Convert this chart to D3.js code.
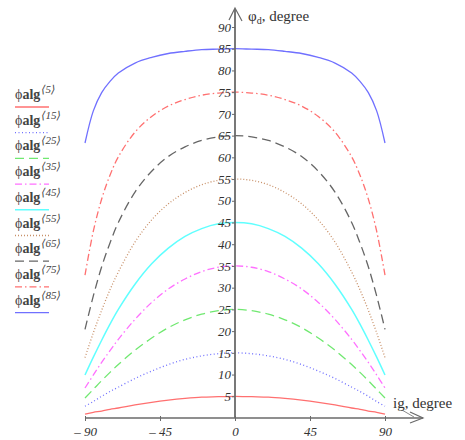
<!DOCTYPE html>
<html>
<head>
<meta charset="utf-8">
<script src="https://cdn.jsdelivr.net/npm/d3@7"></script>
<style>
  body { margin: 0; background: #fff; }
  svg { display: block; }
  svg text { font-family: "Liberation Serif", "Times New Roman", "DejaVu Serif", serif; }
</style>
</head>
<body>
<script>
// incidence angle, degree
var ig = [-90, -85, -80, -75, -70, -60, -50, -40, -30, -20, -10, 0, 10, 20, 30, 40, 50, 60, 70, 75, 80, 85, 90];

// phi_d
var alg5  = [0.9, 1.3, 1.6, 2.0, 2.3, 3.0, 3.6, 4.1, 4.5, 4.8, 4.9, 5.0, 4.9, 4.8, 4.5, 4.1, 3.6, 3.0, 2.3, 2.0, 1.6, 1.3, 0.9];
var alg15 = [2.7, 3.8, 5.0, 6.1, 7.1, 9.1, 10.8, 12.3, 13.5, 14.3, 14.8, 15.0, 14.8, 14.3, 13.5, 12.3, 10.8, 9.1, 7.1, 6.1, 5.0, 3.8, 2.7];
var alg25 = [4.6, 6.6, 8.6, 10.5, 12.3, 15.6, 18.4, 20.8, 22.6, 23.9, 24.7, 25.0, 24.7, 23.9, 22.6, 20.8, 18.4, 15.6, 12.3, 10.5, 8.6, 6.6, 4.6];
var alg35 = [6.9, 9.9, 12.8, 15.5, 18.1, 22.7, 26.6, 29.7, 32.0, 33.7, 34.7, 35.0, 34.7, 33.7, 32.0, 29.7, 26.6, 22.7, 18.1, 15.5, 12.8, 9.9, 6.9];
var alg45 = [9.9, 14.0, 17.9, 21.6, 25.0, 30.8, 35.5, 39.1, 41.8, 43.6, 44.7, 45.0, 44.7, 43.6, 41.8, 39.1, 35.5, 30.8, 25.0, 21.6, 17.9, 14.0, 9.9];
var alg55 = [13.9, 19.6, 24.8, 29.5, 33.6, 40.5, 45.6, 49.3, 51.9, 53.7, 54.7, 55.0, 54.7, 53.7, 51.9, 49.3, 45.6, 40.5, 33.6, 29.5, 24.8, 19.6, 13.9];
var alg65 = [20.4, 28.1, 34.8, 40.3, 45.0, 52.0, 56.8, 60.2, 62.4, 63.9, 64.7, 65.0, 64.7, 63.9, 62.4, 60.2, 56.8, 52.0, 45.0, 40.3, 34.8, 28.1, 20.4];
var alg75 = [32.9, 43.0, 50.4, 55.9, 60.1, 65.8, 69.4, 71.8, 73.3, 74.3, 74.8, 75.0, 74.8, 74.3, 73.3, 71.8, 69.4, 65.8, 60.1, 55.9, 50.4, 43.0, 32.9];
var alg85 = [63.3, 70.7, 74.9, 77.5, 79.4, 81.7, 83.0, 83.9, 84.4, 84.8, 84.9, 85.0, 84.9, 84.8, 84.4, 83.9, 83.0, 81.7, 79.4, 77.5, 74.9, 70.7, 63.3];

var seriesNames = ["5", "15", "25", "35", "45", "55", "65", "75", "85"];
var seriesData = [alg5, alg15, alg25, alg35, alg45, alg55, alg65, alg75, alg85];

var xTicks = [-90, -45, 0, 45, 90];
var yTicks = [5, 10, 15, 20, 25, 30, 35, 40, 45, 50, 55, 60, 65, 70, 75, 80, 85, 90];

// styling per series
var colors = ["#ff7070", "#7070ff", "#70e870", "#ff70ff", "#60ffff", "#c89068", "#666666", "#ff7070", "#7070ff"];
var dashes = [null, "1,2.5", "9,5", "7,3,1.5,3", null, "1,2", "9,5", "7,3,1.5,3", null];
var widths = [1.3, 1.3, 1.3, 1.3, 1.5, 1.3, 1.3, 1.3, 1.3];

var w = 465, h = 440;
var svg = d3.select("body").append("svg").attr("width", w).attr("height", h);

var x = d3.scaleLinear().domain([-90, 90]).range([85, 385]);
var y = d3.scaleLinear().domain([0, 90]).range([418, 27]);

var axisColor = "#6a6a6a";

// curves
var line = d3.line()
  .x(function(d, i) { return x(ig[i]); })
  .y(function(d) { return y(d); })
  .curve(d3.curveCatmullRom);

svg.selectAll(".curve")
  .data(seriesData)
  .enter()
  .append("path")
  .attr("class", "curve")
  .attr("d", line)
  .attr("fill", "none")
  .attr("stroke", function(d, i) { return colors[i]; })
  .attr("stroke-width", function(d, i) { return widths[i]; })
  .attr("stroke-dasharray", function(d, i) { return dashes[i]; });

// y axis
var yAxis = svg.append("g")
  .attr("transform", "translate(" + x(0) + ",0)")
  .call(d3.axisLeft(y).tickValues(yTicks).tickSize(3).tickPadding(1));
yAxis.attr("font-family", null);
yAxis.select(".domain").remove();
yAxis.selectAll("line").attr("stroke", axisColor);
yAxis.selectAll("text")
  .style("font-style", "italic")
  .style("font-size", "13px")
  .attr("fill", "#333");

svg.append("line")
  .attr("x1", x(0)).attr("x2", x(0))
  .attr("y1", y(0)).attr("y2", 9)
  .attr("stroke", axisColor).attr("stroke-width", 1.8);
svg.append("path")
  .attr("d", "M" + (x(0) - 6) + ",20L" + x(0) + ",8L" + (x(0) + 7) + ",21")
  .attr("fill", "none").attr("stroke", axisColor).attr("stroke-width", 1.2);

// x axis
var xAxis = svg.append("g")
  .attr("transform", "translate(0," + y(0) + ")")
  .call(d3.axisBottom(x).tickValues(xTicks).tickSize(3).tickPadding(6)
    .tickFormat(function(d) { return d < 0 ? "\u2013 " + Math.abs(d) : d; }));
xAxis.attr("font-family", null);
xAxis.select(".domain").remove();
xAxis.selectAll("line").attr("stroke", axisColor).attr("y1", -2);
xAxis.selectAll("text")
  .style("font-style", "italic")
  .style("font-size", "13px")
  .attr("fill", "#333");

svg.append("line")
  .attr("x1", x(-90)).attr("x2", 423)
  .attr("y1", y(0)).attr("y2", y(0))
  .attr("stroke", axisColor).attr("stroke-width", 1.5);
svg.append("path")
  .attr("d", "M410," + (y(0) - 6) + "L423," + y(0) + "L410," + (y(0) + 5))
  .attr("fill", "none").attr("stroke", axisColor).attr("stroke-width", 1.2);

// axis titles
var yt = svg.append("text")
  .attr("x", 248).attr("y", 21)
  .style("font-size", "15px").attr("fill", "#333");
yt.append("tspan").text("\u03c6");
yt.append("tspan").style("font-size", "10px").attr("dy", 3).text("d");
yt.append("tspan").attr("dy", -3).text(", degree");

svg.append("text")
  .attr("x", 393).attr("y", 408)
  .style("font-size", "15px").attr("fill", "#333")
  .text("ig, degree");
svg.append("line")
  .attr("x1", 402).attr("y1", 410).attr("x2", 414).attr("y2", 417)
  .attr("stroke", axisColor).attr("stroke-width", 0.8);

// legend
var items = svg.selectAll(".item")
  .data(seriesNames)
  .enter()
  .append("g")
  .attr("class", "item")
  .attr("transform", function(d, i) { return "translate(15," + (99 + i * 25.7) + ")"; });

var lt = items.append("text")
  .style("font-size", "14px").attr("fill", "#444");
lt.append("tspan").text("\u03d5");
lt.append("tspan").style("font-weight", "bold").text("alg");
lt.append("tspan")
  .style("font-size", "11px").style("font-style", "italic").attr("dy", -6).attr("dx", 1)
  .text(function(d) { return "\u27e8" + d + "\u27e9"; });

items.append("line")
  .attr("x1", 0).attr("x2", 34)
  .attr("y1", 8).attr("y2", 8)
  .attr("stroke", function(d, i) { return colors[i]; })
  .attr("stroke-width", function(d, i) { return widths[i]; })
  .attr("stroke-dasharray", function(d, i) { return dashes[i]; });
</script>
</body>
</html>
